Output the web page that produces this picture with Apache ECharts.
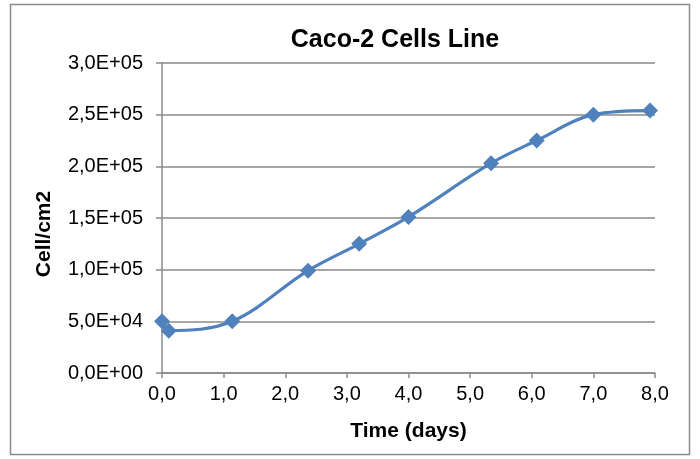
<!DOCTYPE html>
<html><head><meta charset="utf-8">
<script src="https://cdn.jsdelivr.net/npm/echarts@6/dist/echarts.min.js"></script>
<style>html,body{margin:0;padding:0;background:#fff}#c{width:700px;height:459px}</style>
</head><body><div id="c"></div>
<script>
const days = [0.0, 0.11, 1.14, 2.37, 3.2, 4.0, 5.34, 6.08, 7.0, 7.92];
const cells = [50000, 41000, 50000, 99000, 125000, 151000, 203000, 225000, 250000, 254000];
const titleText = 'Caco-2 Cells Line';
const xName = 'Time (days)';
const yName = 'Cell/cm2';

function sci(v){
  if (v === 0) return '0,0E+00';
  const e = Math.floor(Math.log10(Math.abs(v)) + 1e-9);
  const m = v / Math.pow(10, e);
  return m.toFixed(1).replace('.', ',') + 'E+' + String(e).padStart(2, '0');
}

const chart = echarts.init(document.getElementById('c'), null, {renderer:'canvas'});
const font = 'Liberation Sans, Arial, sans-serif';
chart.setOption({
  animation:false,
  backgroundColor:'#fff',
  textStyle:{fontFamily:font},
  graphic:[{type:'rect', shape:{x:10.5,y:4.5,width:679,height:450}, style:{fill:'none', stroke:'#8a8a8a', lineWidth:1.5}, silent:true}],
  title:{text:titleText, left:390, top:23, textAlign:'center',
    textStyle:{fontFamily:font, fontWeight:'bold', fontSize:25, color:'#000'}},
  grid:{left:162, right:45, top:63, bottom:86},
  xAxis:{type:'value', min:0, max:8, interval:1,
    name:xName, nameLocation:'middle', nameGap:48,
    nameTextStyle:{fontFamily:font, fontWeight:'bold', fontSize:21, color:'#000'},
    axisLine:{show:true, lineStyle:{color:'#8a8a8a', width:1.5}},
    axisTick:{show:true, length:5, lineStyle:{color:'#8a8a8a', width:1.5}},
    axisLabel:{fontFamily:font, fontSize:20, color:'#000', margin:11, formatter:v=>v.toFixed(1).replace('.', ',')},
    splitLine:{show:false}},
  yAxis:{type:'value', min:0, max:300000, interval:50000,
    name:yName, nameLocation:'middle', nameGap:107, nameRotate:90,
    nameTextStyle:{fontFamily:font, fontWeight:'bold', fontSize:21, color:'#000', padding:[0,32,0,0]},
    axisLine:{show:true, lineStyle:{color:'#8a8a8a', width:1.5}},
    axisTick:{show:true, length:6, lineStyle:{color:'#8a8a8a', width:1.5}},
    axisLabel:{fontFamily:font, fontSize:20, color:'#000', margin:19, formatter:sci},
    splitLine:{show:true, lineStyle:{color:'#8a8a8a', width:1.5}}},
  series:[{type:'line', data:days.map((d,i)=>[d,cells[i]]), smooth:0.35,
    symbol:'diamond', symbolSize:16,
    lineStyle:{color:'#4F81BD', width:3.2},
    itemStyle:{color:'#4F81BD'}}]
});
</script></body></html>
